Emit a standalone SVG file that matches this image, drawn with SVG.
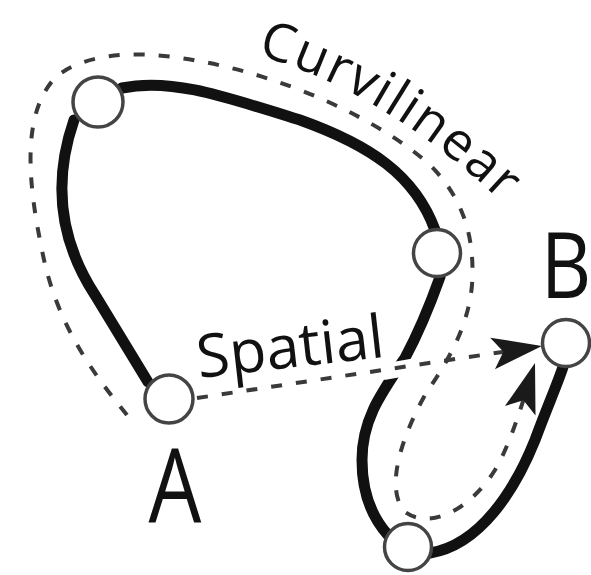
<svg xmlns="http://www.w3.org/2000/svg" width="591" height="575" viewBox="0 0 591 575">
<style>
.thick{fill:none;stroke:#111;stroke-width:11;stroke-linecap:round}
.dash{fill:none;stroke:#3a3a3a;stroke-width:4;stroke-dasharray:11 14}
.node circle{fill:#fff;stroke:#444;stroke-width:3.5}
.lbl{font-family:"Open Sans","Noto Sans",sans-serif;fill:#111}
</style>
<defs>
<marker id="arr" markerUnits="userSpaceOnUse" viewBox="-54 -20 58 40" refX="0" refY="0" markerWidth="58" markerHeight="40" orient="auto">
<path d="M0,0 L-50,-16 L-39,0 L-50,16 Z" fill="#1a1a1a"/>
</marker>
<path id="curvPath" d="M 257,55 Q 400,95 535,235"/>
</defs>
<rect width="591" height="575" fill="#fff"/>
<g id="connectors">
<path class="thick" d="M 74,120 C 55,175 56,235 95,295 L 148,382"/>
<path class="thick" d="M 122,88 C 170,78 220,95 300,120 C 370,145 415,175 435,230"/>
<path class="thick" d="M 440,277 C 430,305 420,330 405,358 C 380,395 362,420 362,460 C 362,490 370,515 388,535"/>
<path class="thick" d="M 430,553 C 480,545 515,490 535,440 C 548,405 557,385 563,367"/>
<line x1="383" y1="372" x2="417" y2="366" stroke="#fff" stroke-width="16"/>
<path class="dash" d="M 127,415 C 90,370 55,320 42,250 C 25,170 25,110 55,78 C 80,55 130,50 180,58 C 280,72 380,120 430,165 C 465,200 475,240 472,285 C 468,330 445,365 425,395 C 400,440 385,490 405,512 C 430,530 470,510 495,470 C 510,445 522,405 535,363" marker-end="url(#arr)"/>
<path class="dash" d="M 197,398 L 542,346" stroke="#555" marker-end="url(#arr)"/>
</g>
<g id="node1" class="node"><circle cx="98" cy="102" r="25"/></g>
<g id="node2" class="node"><circle cx="437" cy="253" r="23.5"/></g>
<g id="nodeA" class="node"><circle cx="169" cy="399" r="24"/></g>
<g id="nodeB" class="node"><circle cx="566" cy="343" r="23.5"/></g>
<g id="node5" class="node"><circle cx="408" cy="547" r="23.5"/></g>
<g id="labels">
<text class="lbl" font-size="53" letter-spacing="2"><textPath href="#curvPath">Curvilinear</textPath></text>
<text class="lbl" font-size="60" transform="translate(199,378) rotate(-6.5)">Spatial</text>
<text class="lbl" font-size="102" transform="translate(175,522) scale(0.82,1)" text-anchor="middle">A</text>
<text class="lbl" font-size="91" transform="translate(566,298) scale(0.86,1)" text-anchor="middle">B</text>
</g>
</svg>
